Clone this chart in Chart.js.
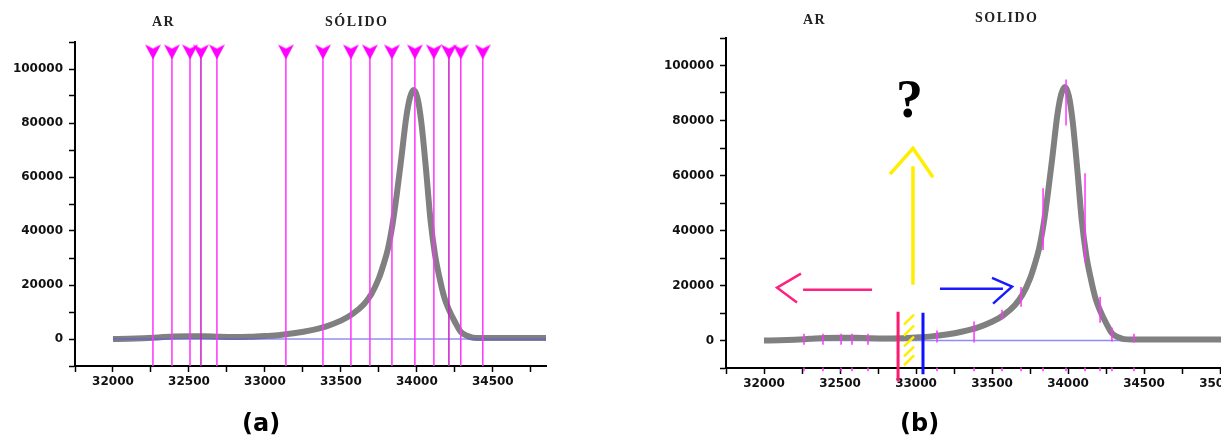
<!DOCTYPE html>
<html>
<head>
<meta charset="utf-8">
<script src="https://cdn.jsdelivr.net/npm/chart.js@4.4.0/dist/chart.umd.min.js"></script>
<style>
html, body { margin: 0; padding: 0; background: #fff; }
body { width: 1221px; height: 442px; overflow: hidden; position: relative; }
canvas { position: absolute; top: 0; }
#chartA { left: 0; }
#chartB { left: 620px; }
.lbl { position: absolute; font-family: "Liberation Serif", serif; font-weight: bold; font-size: 14px; line-height: 14px; letter-spacing: 1.5px; color: #222; white-space: nowrap; }
.panel { position: absolute; font-family: "DejaVu Sans", sans-serif; font-weight: bold; font-size: 24px; line-height: 24px; color: #000; }
.qmark { position: absolute; font-family: "Liberation Serif", serif; font-weight: bold; font-size: 54px; line-height: 54px; color: #000; }
</style>
</head>
<body>
<canvas id="chartA" width="620" height="442"></canvas>
<canvas id="chartB" width="650" height="442"></canvas>
<div class="lbl" style="left:152px;top:15px">AR</div>
<div class="lbl" style="left:325px;top:15px">SÓLIDO</div>
<div class="lbl" style="left:803px;top:13px">AR</div>
<div class="lbl" style="left:975px;top:11px">SOLIDO</div>
<div class="qmark" style="left:896px;top:72px">?</div>
<div class="panel" style="left:242px;top:411px">(a)</div>
<div class="panel" style="left:900px;top:411px">(b)</div>
<script>
// spectrum (same curve in both panels)
var waveNumber = [32000, 32100, 32200, 32300, 32400, 32500, 32600, 32700, 32800, 32900, 33000, 33100, 33200, 33300, 33400, 33500, 33575, 33650, 33700, 33750, 33780, 33810, 33840, 33870, 33900, 33930, 33955, 33980, 34005, 34030, 34060, 34090, 34120, 34150, 34180, 34210, 34250, 34290, 34330, 34370, 34420, 34500, 34700, 34850, 35000, 35250];
var intensity = [0, 100, 300, 600, 900, 1000, 1000, 800, 700, 800, 1100, 1500, 2200, 3200, 4600, 6800, 9200, 12800, 16600, 22500, 27500, 33500, 42500, 54500, 68000, 82000, 89500, 92200, 89000, 80000, 63000, 44000, 31000, 22500, 15500, 11000, 6400, 2600, 1200, 500, 400, 400, 350, 350, 350, 350];

// marked positions (arrows in a, short ticks in b)
var markers = [32263, 32388, 32507, 32579, 32684, 33138, 33382, 33566, 33691, 33836, 33987, 34112, 34211, 34289, 34434];
var darkMarkers = [3, 12];

// visible pieces of the marks in (b)
var fragLo = [-1500, -1500, -1500, -1500, -1500, -700, -700, 7600, 12300, 32900, 78200, 28600, 6500, -400, -700];
var fragHi = [2500, 2500, 2500, 2500, 2500, 3600, 6900, 11200, 19500, 55400, 94900, 60800, 15900, 4700, 2500];

// drawn notes in (b), in axis units
var yellowArrow = [[32980, 20300], [32980, 63400], null, [32829, 60500], [32980, 69900], [33112, 59400]];
var pinkArrow = [[32257, 18500], [32711, 18500], null, [32243, 24300], [32086, 19200], [32217, 13800]];
var blueArrow = [[33158, 18800], [33572, 18800], null, [33500, 22800], [33632, 19600], [33507, 13400]];
var pinkBar = [[32882, 10500], [32882, -14800]];
var blueBar = [[33046, 10100], [33046, -12300]];
var hatchY = [7600, 3600, -360, -4000, -7200];

var tickFont = { family: 'DejaVu Sans', weight: 'bold', size: 12 };

function curvePoints() {
    return waveNumber.map(function (x, i) { return { x: x, y: intensity[i] }; });
}

function pts(list) {
    return list.map(function (p) { return p ? { x: p[0], y: p[1] } : { x: 0, y: null }; });
}

function arrowHead() {
    var c = document.createElement('canvas');
    c.width = 16; c.height = 16;
    var g = c.getContext('2d');
    g.fillStyle = '#ff00ff';
    g.beginPath();
    g.moveTo(0, 1); g.lineTo(8, 5); g.lineTo(16, 1); g.lineTo(8, 16);
    g.closePath();
    g.fill();
    return c;
}

function makeScales(xMax, yWidth, xHeight) {
    return {
        x: {
            type: 'linear', min: 31750, max: xMax,
            afterFit: function (s) { s.height = xHeight; },
            grid: { drawOnChartArea: false, tickLength: 6, tickColor: '#000', tickWidth: 1.5 },
            border: { display: true, color: '#000', width: 2 },
            ticks: {
                stepSize: 250, autoSkip: false, maxRotation: 0, includeBounds: false, padding: 3,
                color: '#111', font: tickFont,
                callback: function (v) { return v % 500 === 0 ? String(v) : ''; }
            }
        },
        y: {
            type: 'linear', min: -10000, max: 110000,
            afterFit: function (s) { s.width = yWidth; },
            grid: { drawOnChartArea: false, tickLength: 6, tickColor: '#000', tickWidth: 1.5 },
            border: { display: true, color: '#000', width: 2 },
            ticks: {
                stepSize: 10000, autoSkip: false, padding: 6,
                color: '#111', font: tickFont,
                callback: function (v) { return v >= 0 && v % 20000 === 0 ? String(v) : ''; }
            }
        }
    };
}

function baseOptions(padding, scales) {
    return {
        responsive: false,
        animation: false,
        events: [],
        layout: { padding: padding },
        elements: { point: { radius: 0 } },
        plugins: { legend: { display: false }, tooltip: { enabled: false } },
        scales: scales
    };
}

// ---- panel (a)
var lineData = [];
markers.forEach(function (m) {
    lineData.push({ x: m, y: -10000 }, { x: m, y: 106500 }, { x: m, y: null });
});

new Chart(document.getElementById('chartA'), {
    type: 'line',
    data: {
        datasets: [
            {
                data: markers.map(function (m) { return { x: m, y: 106500 }; }),
                showLine: false, pointStyle: arrowHead(), pointRadius: 8, clip: false
            },
            {
                data: lineData, borderWidth: 1.5, borderColor: '#ff33ff',
                segment: {
                    borderColor: function (ctx) {
                        return darkMarkers.indexOf(Math.floor(ctx.p0DataIndex / 3)) >= 0 ? '#c81ec8' : '#ff33ff';
                    }
                }
            },
            { data: [{ x: 32000, y: 0 }, { x: 34850, y: 0 }], borderWidth: 1, borderColor: '#5a5ae6' },
            { data: curvePoints(), borderWidth: 6, borderColor: '#808080', cubicInterpolationMode: 'monotone' }
        ]
    },
    options: baseOptions({ left: 0, right: 74, top: 42, bottom: 0 }, makeScales(34850, 75, 76))
});

// ---- panel (b)
var fragData = [];
markers.forEach(function (m, i) {
    fragData.push({ x: m, y: fragLo[i] }, { x: m, y: fragHi[i] }, { x: m, y: null });
    fragData.push({ x: m, y: -11200 }, { x: m, y: -9800 }, { x: m, y: null });
});
var hatchData = [];
hatchY.forEach(function (c) {
    hatchData.push({ x: 32921, y: c - 1800 }, { x: 32987, y: c + 1800 }, { x: 32921, y: null });
});

new Chart(document.getElementById('chartB'), {
    type: 'line',
    data: {
        datasets: [
            { data: pts(pinkBar), borderWidth: 3, borderColor: '#ff1a6e', clip: false },
            { data: pts(blueBar), borderWidth: 3, borderColor: '#1010ff', clip: false },
            { data: hatchData, borderWidth: 2.5, borderColor: '#ffee00', clip: false },
            { data: pts(yellowArrow), borderWidth: 3.5, borderColor: '#ffee00', clip: false },
            { data: pts(pinkArrow), borderWidth: 2.5, borderColor: '#ff2080', clip: false },
            { data: pts(blueArrow), borderWidth: 2.5, borderColor: '#1a1aff', clip: false },
            { data: fragData, borderWidth: 1.5, borderColor: '#ff33ff', clip: false },
            { data: curvePoints(), borderWidth: 6, borderColor: '#808080', cubicInterpolationMode: 'monotone' },
            { data: [{ x: 32000, y: 0 }, { x: 35250, y: 0 }], borderWidth: 1.5, borderColor: '#8c8cff' }
        ]
    },
    options: baseOptions({ left: 0, right: 12, top: 38, bottom: 0 }, makeScales(35250, 106, 74))
});
</script>
</body>
</html>
